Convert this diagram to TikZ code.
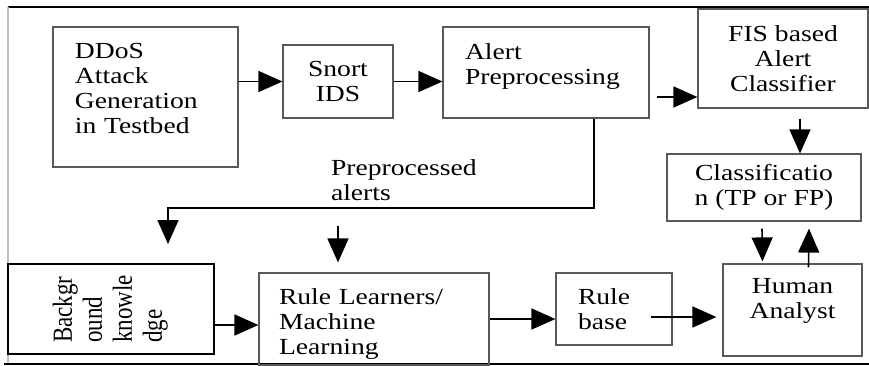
\documentclass[tikz,border=0pt]{standalone}
\usepackage{fontspec}
\setmainfont{Liberation Serif}[FakeStretch=1.2]
\newfontfamily\plainserif{Liberation Serif}
\usepackage{graphicx}
\usetikzlibrary{arrows.meta, calc}

\begin{document}
\begin{tikzpicture}[x=0.5pt, y=-0.5pt, >={Triangle[length=12pt, width=10.5pt]},
    font=\fontsize{11.5}{12.5}\selectfont,
    block/.style={draw=black!65, line width=0.6pt, rectangle, inner sep=0pt},
    lblock/.style={block, align=left, inner xsep=11pt},
    cblock/.style={block, align=center},
    link/.style={->, line width=0.8pt}]
    \useasboundingbox (0,0) rectangle (869,365);
    % frame round the figure
    \draw[line width=1pt] (8,7) -- (869,7);
    \draw[black!25, line width=0.6pt] (8,7) -- (8,363);
    \draw[line width=1pt] (4,363.5) -- (869,363.5);

    % upper row
    \node[lblock, text width=70.5pt, text depth=46.5pt, minimum height=70pt] (ddos) at (145.5,97) {DDoS\\Attack\\Generation\\in Testbed};
    \node[cblock, minimum width=55pt, minimum height=36.5pt] (snort) at (338,81.5) {Snort\\IDS};
    \node[lblock, text width=81pt, text depth=21pt, minimum height=45.5pt] (alert) at (546,72.5) {Alert\\Preprocessing};
    \node[cblock, minimum width=85pt, minimum height=49.5pt] (fis) at (783,58.5) {FIS based\\Alert\\Classifier};
    \node[cblock, minimum width=97pt, minimum height=33.5pt] (class) at (764,187.5) {Classificatio\\n (TP or FP)};

    % lower row
    \node[draw, line width=1pt, rectangle, inner sep=0pt, minimum width=103pt, minimum height=45pt] (bg) at (111,309)
        {\rotatebox{90}{\scalebox{1}[1.2]{\plainserif\fontsize{11.5}{12.5}\selectfont\begin{tabular}{@{}l@{}}Backgr\\ound\\knowle\\dge\end{tabular}}}};
    \node[lblock, inner xsep=10pt, text width=95pt, text height=13pt, minimum height=46pt] (rl) at (374,319) {Rule Learners/\\Machine\\Learning};
    \node[lblock, text width=36pt, minimum height=36pt] (rbase) at (614,309) {Rule\\base};
    \node[cblock, text depth=11.5pt, minimum width=69.5pt, minimum height=46pt] (human) at (792.5,310) {Human\\Analyst};

    \node[align=left, anchor=west] (pplabel) at (324,180) {Preprocessed\\alerts};
    \coordinate (ppturn) at (168,208);
    \coordinate (a2f) at (657,97);

    \draw[link] (ddos.east |- snort) -- (snort.west);
    \draw[link] (snort.east) -- (snort.east -| alert.west);
    \draw[link] (a2f) -- (a2f -| fis.west);
    \draw[link] ([shift={(8.5pt,-5pt)}]fis.south) -- ([xshift=18pt]class.north);
    \draw[link] ([xshift=24pt]alert.south) |- (ppturn) -- ([shift={(28.5pt,9.5pt)}]bg.north);
    \draw[link] ([shift={(-18pt,23pt)}]rl.north) -- ([shift={(-18pt,5pt)}]rl.north);
    \draw[link] ([yshift=-8pt]bg.east) -- ([yshift=-8pt]bg.east -| rl.west);
    \draw[link] (rl.east) -- (rl.east -| rbase.west);
    \draw[link] ([shift={(-11pt,-4pt)}]rbase.east) coordinate (rb) -- ($(rb -| human.west)+(-3pt,0)$);
    \draw[link] ([shift={(-1pt,-3.5pt)}]class.south) -- ([shift={(-15pt,1pt)}]human.north);
    \draw[link] ([shift={(8pt,-2pt)}]human.north) -- ([shift={(22.5pt,-3.5pt)}]class.south);
\end{tikzpicture}
\end{document}
